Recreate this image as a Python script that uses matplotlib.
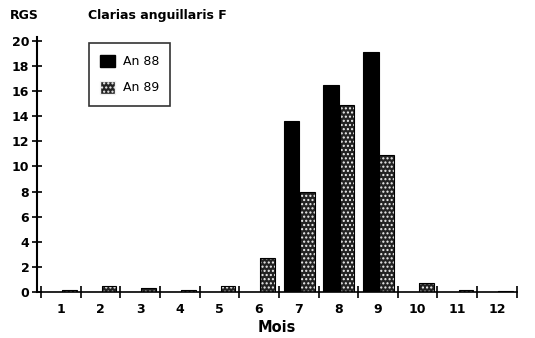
import matplotlib
matplotlib.use("Agg")
import matplotlib.pyplot as plt
import numpy as np
from matplotlib.patches import Patch

months = [1, 2, 3, 4, 5, 6, 7, 8, 9, 10, 11, 12]
month_labels = ["1", "2", "3", "4", "5", "6", "7", "8", "9", "10", "11", "12"]
an88 = [0, 0, 0, 0, 0, 0, 13.6, 16.5, 19.1, 0, 0, 0]
an89 = [0.15, 0.45, 0.3, 0.2, 0.45, 2.7, 8.0, 14.9, 10.9, 0.7, 0.15, 0.1]
yticks = [0, 2, 4, 6, 8, 10, 12, 14, 16, 18, 20]

plt.rcParams['hatch.linewidth'] = 1.0
fig = plt.figure(figsize=(5.35, 3.38), dpi=100)
ax = fig.add_axes([0.069, 0.136, 0.897, 0.743])

x = np.array(months, dtype=float)
w = 0.4
ax.bar(x - 0.18, an88, width=w, color="black", edgecolor="black", linewidth=0.8)
ax.bar(x + 0.22, an89, width=0.37, color="#222222", edgecolor="#f0f0f0", hatch="....", linewidth=0)
ax.bar(x + 0.22, an89, width=0.37, fill=False, edgecolor="black", linewidth=0.8)

ax.set_xlim(0.4, 12.5)
ax.set_ylim(0, 20)
for s in ["top", "right"]:
    ax.spines[s].set_visible(False)
ax.spines["left"].set_linewidth(1.5)
ax.spines["bottom"].set_linewidth(1.2)
ax.spines["left"].set_bounds(0, 20.3)

ax.set_yticks(yticks)
ax.set_yticklabels([str(v) for v in yticks], fontsize=9, fontweight="bold")
ax.tick_params(axis="y", direction="inout", length=7, width=1.2, pad=2)

ax.set_xticks(x)
ax.set_xticklabels(month_labels, fontsize=9, fontweight="bold")
ax.tick_params(axis="x", which="major", length=0, pad=8)
ax.set_xticks(np.arange(0.5, 13, 1.0), minor=True)
ax.tick_params(axis="x", which="minor", direction="inout", length=8, width=1.2)

ax.set_xlabel("Mois", fontsize=10.5, fontweight="bold", labelpad=3)

fig.text(0.019, 0.955, "RGS", fontsize=9, fontweight="bold", va="center")
fig.text(0.165, 0.955, "Clarias anguillaris F", fontsize=9, fontweight="bold", va="center")

handles = [Patch(facecolor="black", edgecolor="black", label="An 88"),
           Patch(facecolor="#222222", edgecolor="#f0f0f0", hatch="....", label="An 89")]
leg = ax.legend(handles=handles, loc="upper left", bbox_to_anchor=(0.095, 1.015),
                frameon=True, fancybox=False, edgecolor="black", fontsize=9,
                handlelength=1.2, handleheight=1.2, borderpad=0.9, labelspacing=1.0,
                handletextpad=0.6)
leg.get_frame().set_linewidth(1.2)

fig.savefig("out.png", dpi=100)
